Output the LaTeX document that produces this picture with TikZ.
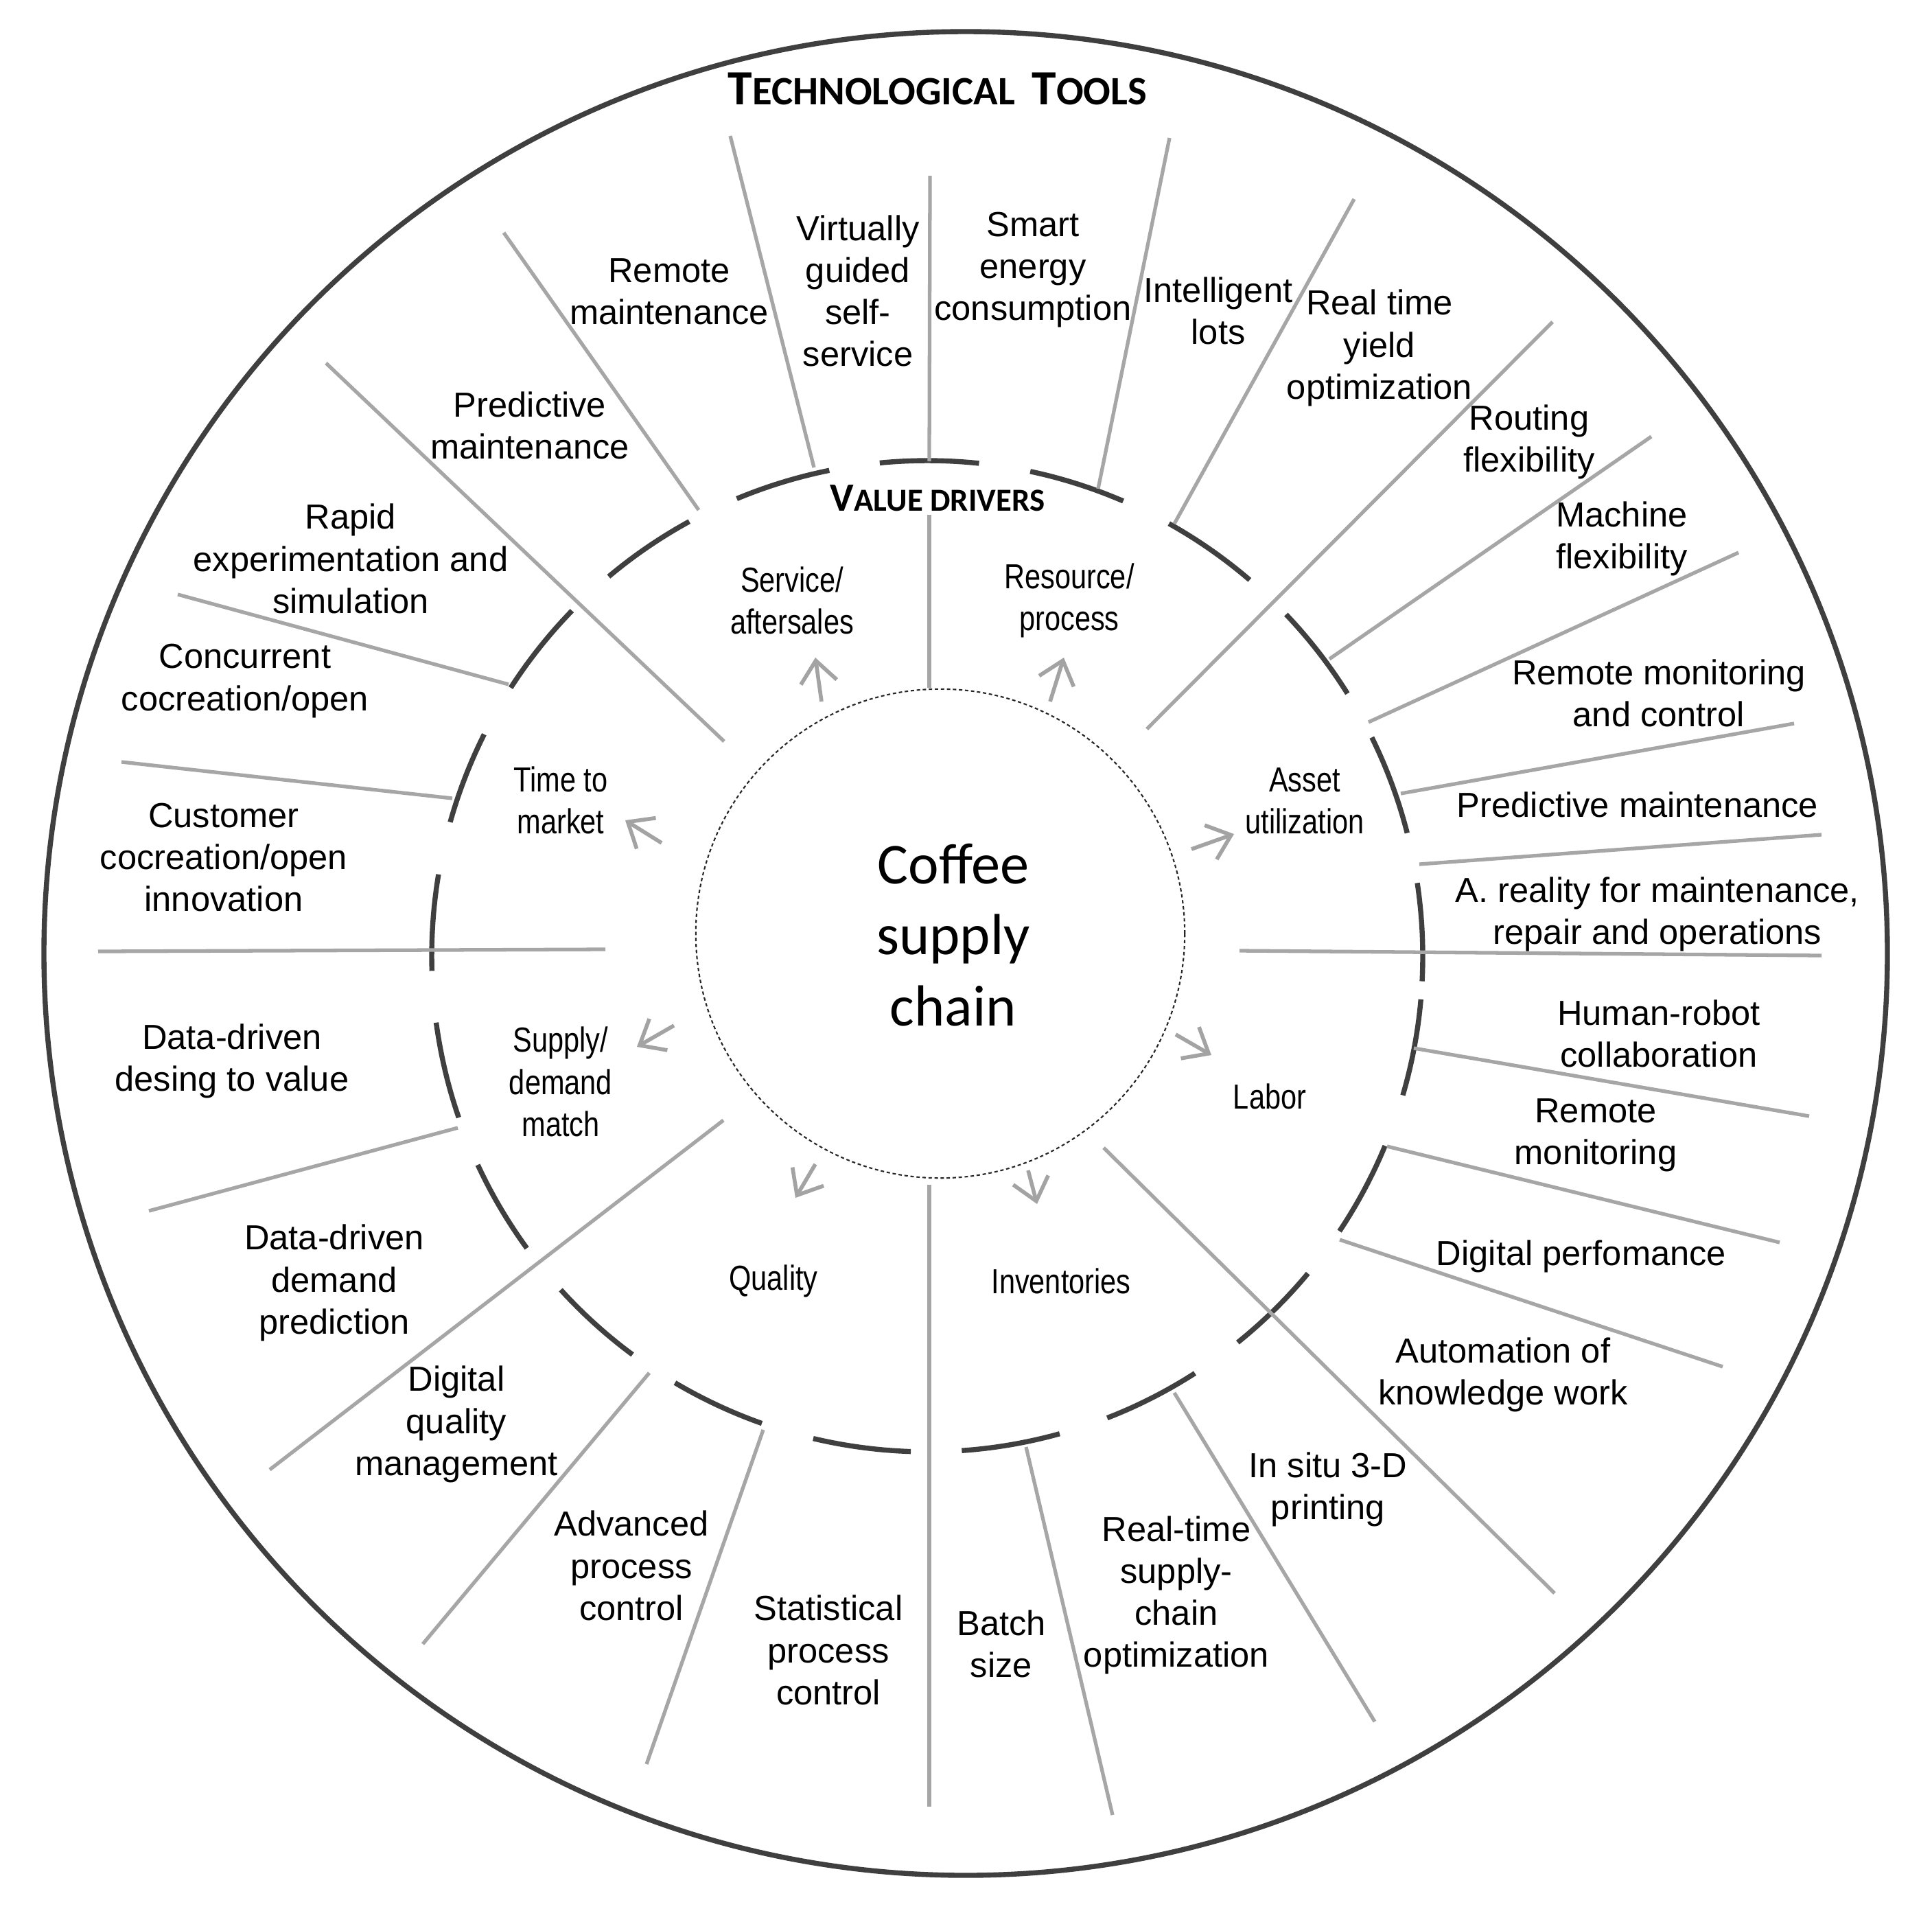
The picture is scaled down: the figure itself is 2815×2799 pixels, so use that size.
\documentclass[tikz,border=0pt]{standalone}
\usepackage{fontspec}
\setmainfont{Liberation Sans}
\newfontfamily\narrowfont[FakeStretch=0.82]{Liberation Sans}
\newfontfamily\calfont{Carlito}
\usetikzlibrary{arrows.meta}
\definecolor{lgray}{HTML}{A6A6A6}
\definecolor{dgray}{HTML}{3F3F3F}
\definecolor{agray}{HTML}{A3A3A3}
\newcommand{\titlesc}[2]{{\fontsize{20.4}{24}\selectfont #1}{\fontsize{16.7}{20}\selectfont #2}}
\newcommand{\vdsc}[2]{{\fontsize{16.6}{20}\selectfont #1}{\fontsize{13.3}{16}\selectfont #2}}
\begin{document}
\begin{tikzpicture}[x=0.01cm,y=-0.01cm,
  outerring/.style={draw=dgray,line width=2.1pt},
  ringarc/.style={draw=dgray,line width=2.1pt},
  tline/.style={draw=lgray,line width=1.5pt},
  vdarrow/.style={draw=agray,line width=1.6pt,-{Straight Barb[length=9pt,width=15pt]}},
  tool/.style={font=\fontsize{14.4}{17.4}\selectfont,align=center,inner sep=0pt,text=black},
  driver/.style={font=\narrowfont\fontsize{14.4}{17.4}\selectfont,align=center,inner sep=0pt,text=black},
  heading/.style={font=\calfont\bfseries,inner sep=0pt,text=black}]
\useasboundingbox (0,0) rectangle (2815,2799);
\fill[white] (0,0) rectangle (2815,2799);

% outer circle
\coordinate (oc) at (1407,1389);
\draw[outerring] (oc) circle[radius=1343];

% value-driver ring (dashed arcs)
\coordinate (ring) at (1351,1393);
\foreach \a/\b in {247.4/258.6,264.5/276.0,282.0/293.3,299.2/310.6,316.4/328.0,333.8/345.6,
  351.5/362.9,365.0/376.3,382.5/393.7,399.8/411.2,417.3/428.7,434.5/446.0,451.9/463.3,
  469.5/480.6,486.5/497.7,503.9/515.1,521.0/532.3,538.3/549.5,555.7/566.6,572.8/584.2,590.0/601.3}
  \draw[ringarc] ([shift={(\a:722)}]ring) arc[start angle=\a,end angle=\b,radius=722];

% inner circle
\node[draw=black!85,circle,line width=0.6pt,dash pattern=on 1.4pt off 1.1pt,
  minimum size=7.12cm,inner sep=0pt] (core) at (1370,1360) {};
\node[font=\calfont\fontsize{24}{29.5}\selectfont,align=center,inner sep=0pt] (coretext)
  at (1389,1362) {Coffee\\supply\\chain};

% tool separator lines
\foreach \i/\ax/\ay/\bx/\by in {
  1/1064/198/1186/681, 2/1355/256/1354/672, 3/1704/201/1600/712, 4/1973/290/1711/763,
  5/2262/469/1671/1062, 6/2406/636/1937/960, 7/2533/805/1994/1052, 8/2614/1054/2041/1156,
  9/2654/1216/2068/1259, 10/1806/1385/2654/1392, 11/2060/1527/2636/1626, 12/2021/1670/2593/1810,
  13/1952/1806/2510/1991, 14/1608/1672/2265/2321, 15/1711/2029/2003/2508, 16/1495/2108/1621/2644,
  17/1354/1726/1354/2632, 18/1112/2083/942/2570, 19/946/2000/616/2395, 20/1054/1632/393/2141,
  21/667/1643/217/1764, 22/143/1386/882/1383, 23/177/1110/659/1163, 24/259/866/741/997,
  25/475/529/1055/1080, 26/734/339/1018/743, 27/1354/750/1354/1002}
{
  \coordinate (la\i) at (\ax,\ay);
  \coordinate (lb\i) at (\bx,\by);
  \draw[tline] (la\i) -- (lb\i);
}

% arrows from the core to the value drivers
\foreach \n/\tx/\ty/\hx/\hy in {
  serv/1197/1022/1188/958, res/1530/1022/1550/958, asset/1736/1237/1798/1215,
  labor/1713/1507/1765/1537, inv/1498/1705/1511/1754, qual/1188/1696/1159/1745,
  supply/982/1494/928/1525, time/964/1228/911/1195}
{
  \coordinate (at\n) at (\tx,\ty);
  \coordinate (ah\n) at (\hx,\hy);
  \draw[vdarrow] (at\n) -- (ah\n);
}

% headings
\node[heading] (title) at (1366,129) {\titlesc{T}{ECHNOLOGICAL}\hspace{7pt}\titlesc{T}{OOLS}};
\node[heading] (vdtitle) at (1366,726) {\vdsc{V}{ALUE DRIVERS}};

% value drivers
\node[driver] (dserv) at (1154,875) {Service/\\aftersales};
\node[driver] (dres) at (1558,875) {Resource/\\process};
\node[driver] (dasset) at (1901,1167) {Asset\\utilization};
\node[driver] (dlabor) at (1850,1597) {Labor};
\node[driver] (dinv) at (1546,1866) {Inventories};
\node[driver] (dqual) at (1127,1866) {Quality};
\node[driver] (dsupply) at (817,1576) {Supply/\\demand\\match};
\node[driver] (dtime) at (817,1166) {Time to\\market};

% technological tools
\node[tool] (t1) at (975,425) {Remote\\maintenance};
\node[tool] (t2) at (1250,424) {Virtually\\guided\\self-\\service};
\node[tool] (t3) at (1505,393) {Smart\\energy\\consumption};
\node[tool] (t4) at (1775,453) {Intelligent\\lots};
\node[tool] (t5) at (2010,507) {Real time\\yield\\optimization};
\node[tool] (t6) at (2228,644) {Routing\\flexibility};
\node[tool] (t7) at (2363,785) {Machine\\flexibility};
\node[tool] (t8) at (2417,1010) {Remote monitoring\\and control};
\node[tool] (t9) at (2386,1172) {Predictive maintenance};
\node[tool] (t10) at (2415,1332) {A. reality for maintenance,\\repair and operations};
\node[tool] (t11) at (2417,1506) {Human-robot\\collaboration};
\node[tool] (t12) at (2325,1654) {Remote\\monitoring};
\node[tool] (t13) at (2304,1830) {Digital perfomance};
\node[tool] (t14) at (2190,2003) {Automation of\\knowledge work};
\node[tool] (t15) at (1935,2170) {In situ 3-D\\printing};
\node[tool] (t16) at (1714,2324) {Real-time\\supply-\\chain\\optimization};
\node[tool] (t17) at (1459,2395) {Batch\\size};
\node[tool] (t18) at (1207,2404) {Statistical\\process\\control};
\node[tool] (t19) at (920,2281) {Advanced\\process\\control};
\node[tool] (t20) at (665,2075) {Digital\\quality\\management};
\node[tool] (t21) at (487,1869) {Data-driven\\demand\\prediction};
\node[tool] (t22) at (338,1546) {Data-driven\\desing to value};
\node[tool] (t23) at (326,1249) {Customer\\cocreation/open\\innovation};
\node[tool] (t24) at (357,992) {Concurrent\\cocreation/open};
\node[tool] (t25) at (511,814) {Rapid\\experimentation and\\simulation};
\node[tool] (t26) at (772,620) {Predictive\\maintenance};
\end{tikzpicture}
\end{document}
